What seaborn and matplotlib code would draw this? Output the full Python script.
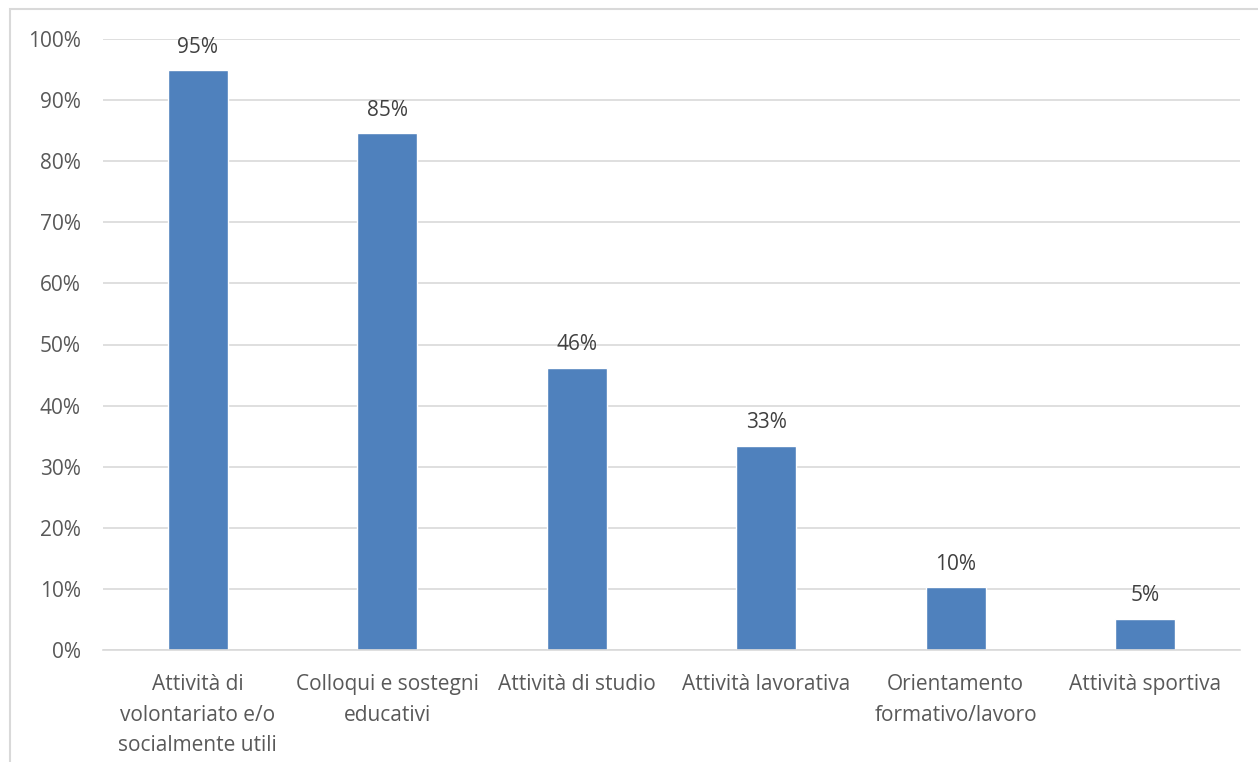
import matplotlib
matplotlib.use("Agg")
import matplotlib.pyplot as plt
import seaborn as sns
import pandas as pd
from matplotlib.patches import Rectangle
from matplotlib.ticker import FuncFormatter

categories = [
    "Attività di\nvolontariato e/o\nsocialmente utili",
    "Colloqui e sostegni\neducativi",
    "Attività di studio",
    "Attività lavorativa",
    "Orientamento\nformativo/lavoro",
    "Attività sportiva",
]
values = [94.9, 84.6, 46.2, 33.4, 10.3, 5.1]
labels = ["95%", "85%", "46%", "33%", "10%", "5%"]
yticks = [0, 10, 20, 30, 40, 50, 60, 70, 80, 90, 100]

sns.set_theme(style="white")
plt.rcParams["font.family"] = ["Open Sans", "DejaVu Sans"]

df = pd.DataFrame({"cat": categories, "val": values})

fig = plt.figure(figsize=(12.58, 7.62), dpi=100)
ax = fig.add_axes([103 / 1258, (762 - 650) / 762, (1240 - 103) / 1258, (650 - 39) / 762])

sns.barplot(data=df, x="cat", y="val", color="#4F81BD", saturation=1, width=0.317, ax=ax)

text_color = "#595959"
grid_color = "#D9D9D9"
ax.set_ylim(0, 100)
ax.set_yticks(yticks)
ax.yaxis.set_major_formatter(FuncFormatter(lambda v, p: f"{int(v)}%"))
ax.grid(axis="y", color=grid_color, linewidth=1.2)
ax.set_axisbelow(True)
for s in ["top", "right", "left"]:
    ax.spines[s].set_visible(False)
ax.spines["bottom"].set_color(grid_color)
ax.spines["bottom"].set_linewidth(1.2)
ax.tick_params(axis="both", length=0, labelsize=15, colors=text_color)
ax.tick_params(axis="y", pad=16)
ax.tick_params(axis="x", pad=17)
ax.set_xlabel("")
ax.set_ylabel("")
for t in ax.get_xticklabels():
    t.set_linespacing(1.62)

for c, lab in zip(ax.containers[0], labels):
    ax.annotate(lab, (c.get_x() + c.get_width() / 2, c.get_height()),
                xytext=(0, 9), textcoords="offset points", ha="center", va="bottom",
                fontsize=15, color="#404040", clip_on=False)

fig.patches.append(Rectangle((10 / 1258, -0.1), 1.2, (762 - 9) / 762 + 0.1,
                             transform=fig.transFigure, fill=False,
                             edgecolor="#D9D9D9", linewidth=1.5))

fig.savefig("out.png", dpi=100)
